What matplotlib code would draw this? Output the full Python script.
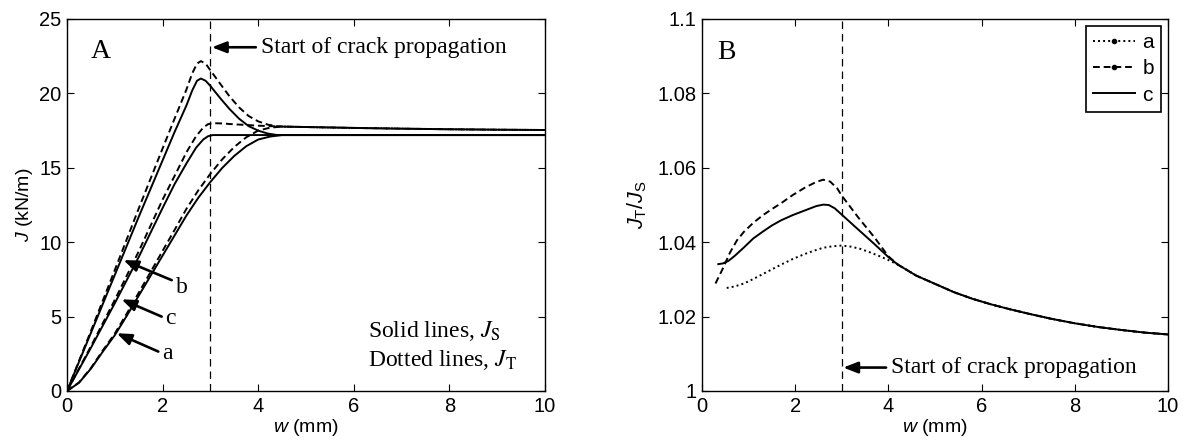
import matplotlib
matplotlib.use("Agg")
import matplotlib.pyplot as plt
from matplotlib.lines import Line2D
import numpy as np

plt.rcParams['font.family'] = ['Liberation Sans', 'DejaVu Sans']
plt.rcParams['mathtext.fontset'] = 'custom'
plt.rcParams['mathtext.rm'] = 'Liberation Sans'
plt.rcParams['mathtext.it'] = 'Liberation Sans:italic'

# ---------------- Panel A data: J (kN/m) vs w (mm) ----------------
a_S_w = [0, 0.25, 0.5, 0.75, 1.0, 1.25, 1.5, 1.75, 2.0, 2.25, 2.5, 2.75, 3.0, 3.25, 3.5, 3.75, 4.0, 4.25, 4.5, 10]
a_S_J = [0, 0.55, 1.5, 2.65, 3.75, 5.05, 6.4, 7.75, 9.1, 10.45, 11.8, 13.0, 14.05, 15.0, 15.8, 16.45, 16.9, 17.1, 17.2, 17.2]

a_T_w = [0, 0.25, 0.5, 0.75, 1.0, 1.25, 1.5, 1.75, 2.0, 2.25, 2.5, 2.75, 3.0, 3.25, 3.5, 3.75, 4.0, 4.25, 4.5, 5, 6, 7, 8, 9, 10]
a_T_J = [0, 0.57, 1.54, 2.73, 3.86, 5.2, 6.6, 8.0, 9.42, 10.82, 12.25, 13.5, 14.6, 15.58, 16.4, 17.05, 17.5, 17.7, 17.77, 17.74, 17.68, 17.63, 17.59, 17.56, 17.54]

c_S_w = [0, 0.5, 1.0, 1.5, 2.0, 2.25, 2.5, 2.7, 2.85, 2.95, 3.05, 10]
c_S_J = [0, 2.9, 5.9, 9.0, 12.3, 13.9, 15.3, 16.35, 16.9, 17.12, 17.2, 17.2]

c_T_w = [0, 0.5, 1.0, 1.5, 2.0, 2.25, 2.5, 2.7, 2.85, 2.95, 3.05, 3.25, 3.5, 3.75, 4.0, 4.5, 5, 6, 7, 8, 9, 10]
c_T_J = [0, 3.0, 6.12, 9.38, 12.86, 14.45, 16.05, 17.12, 17.7, 17.93, 18.0, 17.98, 17.92, 17.88, 17.83, 17.77, 17.74, 17.68, 17.63, 17.59, 17.56, 17.54]

b_S_w = [0, 0.5, 1.0, 1.5, 2.0, 2.25, 2.5, 2.62, 2.72, 2.8, 2.9, 3.0, 3.2, 3.4, 3.6, 3.8, 4.0, 4.2, 4.4, 10]
b_S_J = [0, 3.9, 7.8, 11.7, 15.5, 17.4, 19.2, 20.2, 20.85, 21.0, 20.85, 20.5, 19.7, 18.95, 18.3, 17.8, 17.5, 17.3, 17.2, 17.2]

b_T_w = [0, 0.5, 1.0, 1.5, 2.0, 2.25, 2.5, 2.62, 2.72, 2.8, 2.9, 3.0, 3.2, 3.4, 3.6, 3.8, 4.0, 4.2, 4.4, 4.5, 5, 6, 7, 8, 9, 10]
b_T_J = [0, 4.03, 8.13, 12.26, 16.3, 18.3, 20.27, 21.35, 22.0, 22.17, 22.0, 21.55, 20.67, 19.8, 19.06, 18.48, 18.12, 17.9, 17.8, 17.77, 17.74, 17.68, 17.63, 17.59, 17.56, 17.54]

# ---------------- Panel B data: J_T/J_S vs w (mm) ----------------
tail_w = [4.2, 4.6, 5.0, 5.4, 5.8, 6.2, 6.6, 7.0, 7.5, 8.0, 8.5, 9.0, 9.5, 10.0]
tail_r = [1.0340, 1.0310, 1.0288, 1.0266, 1.0248, 1.0233, 1.0220, 1.0208, 1.0194, 1.0182, 1.0172, 1.0164, 1.0157, 1.0152]

ra_w = [0.53, 0.7, 0.9, 1.1, 1.3, 1.5, 1.7, 1.95, 2.2, 2.4, 2.6, 2.8, 3.0, 3.2, 3.4, 3.6, 3.8, 4.0] + tail_w
ra_r = [1.0277, 1.0281, 1.0289, 1.0301, 1.0314, 1.0327, 1.0340, 1.0355, 1.0368, 1.0377, 1.0385, 1.0389,
        1.0391, 1.0388, 1.0382, 1.0373, 1.0363, 1.0352] + tail_r

rb_w = [0.29, 0.45, 0.6, 0.75, 0.9, 1.1, 1.3, 1.5, 1.7, 1.95, 2.2, 2.45, 2.6, 2.75, 2.9, 3.0, 3.35, 3.7, 4.0] + tail_w
rb_r = [1.0289, 1.0330, 1.0372, 1.0405, 1.0428, 1.0452, 1.0472, 1.0489, 1.0505, 1.0527, 1.0546, 1.0562,
        1.0568, 1.0563, 1.0545, 1.0525, 1.0467, 1.0413, 1.0362] + tail_r

rc_w = [0.35, 0.45, 0.57, 0.7, 0.9, 1.1, 1.3, 1.5, 1.7, 1.95, 2.2, 2.45, 2.6, 2.72, 2.85, 3.0, 3.3, 3.7, 4.0] + tail_w
rc_r = [1.0341, 1.0343, 1.0350, 1.0363, 1.0386, 1.0410, 1.0428, 1.0445, 1.0459, 1.0473, 1.0485, 1.0497,
        1.0501, 1.0500, 1.0491, 1.0474, 1.0440, 1.0395, 1.0360] + tail_r

series_labels = ['a', 'b', 'c']
w_crack = 3.0

W, H = 1190, 443
fig = plt.figure(figsize=(W / 100, H / 100), dpi=100)
axA = fig.add_axes([67 / W, (H - 391) / H, 478 / W, 372 / H])
axB = fig.add_axes([702 / W, (H - 391) / H, 466 / W, 372 / H])

lw = 1.4
tick_fs = 14.5
serif = ['Liberation Serif', 'DejaVu Serif']
arrow_kw = dict(arrowstyle='-|>,head_length=0.62,head_width=0.24', color='black', lw=1.9,
                mutation_scale=14, shrinkA=0, shrinkB=0)

# Panel A curves
for wS, JS, wT, JT in [(a_S_w, a_S_J, a_T_w, a_T_J), (b_S_w, b_S_J, b_T_w, b_T_J), (c_S_w, c_S_J, c_T_w, c_T_J)]:
    axA.plot(wT, JT, color='black', lw=lw, ls=(0, (3.5, 2.0)))
    axA.plot(wS, JS, color='black', lw=lw, ls='-')
axA.axvline(w_crack, color='black', lw=0.9, ls=(0, (6, 4)))

axA.set_xlim(0, 10)
axA.set_ylim(0, 25)
axA.set_xticks([0, 2, 4, 6, 8, 10])
axA.set_yticks([0, 5, 10, 15, 20, 25])
axA.set_xlabel('$\\it{w}$ (mm)', fontsize=14, labelpad=1)
axA.set_ylabel('$\\it{J}$ (kN/m)', fontsize=14, labelpad=3)

axA.text(0.5, 22.8, 'A', fontsize=20, family=serif, va='center', ha='left')
axA.annotate('', xy=(3.03, 23.1), xytext=(3.95, 23.1), arrowprops=arrow_kw)
axA.text(4.05, 23.1, 'Start of crack propagation', fontsize=17, family=serif, va='center', ha='left')

for lab, tip, tail, txt in [('b', (1.18, 8.8), (2.19, 7.45), (2.27, 6.95)),
                            ('c', (1.14, 6.16), (1.98, 5.0), (2.06, 4.85)),
                            ('a', (1.04, 3.88), (1.91, 2.65), (1.98, 2.5))]:
    axA.annotate('', xy=tip, xytext=tail, arrowprops=arrow_kw)
    axA.text(txt[0], txt[1], lab, fontsize=17, family=serif, va='center', ha='left')

axA.text(6.3, 4.0, 'Solid lines, $\\it{J}_{\\rm S}$', fontsize=17, family=serif,
         math_fontfamily='stix', va='center', ha='left')
axA.text(6.3, 2.1, 'Dotted lines, $\\it{J}_{\\rm T}$', fontsize=17, family=serif,
         math_fontfamily='stix', va='center', ha='left')

# Panel B curves
axB.plot(ra_w, ra_r, color='black', lw=lw, ls=(0, (1.0, 1.6)))
axB.plot(rb_w, rb_r, color='black', lw=lw, ls=(0, (3.5, 2.0)))
axB.plot(rc_w, rc_r, color='black', lw=lw, ls='-')
axB.axvline(w_crack, color='black', lw=0.9, ls=(0, (6, 4)))

axB.set_xlim(0, 10)
axB.set_ylim(1.0, 1.1)
axB.set_xticks([0, 2, 4, 6, 8, 10])
yt = [1.0, 1.02, 1.04, 1.06, 1.08, 1.1]
axB.set_yticks(yt)
axB.set_yticklabels(['1', '1.02', '1.04', '1.06', '1.08', '1.1'])
axB.set_xlabel('$\\it{w}$ (mm)', fontsize=14, labelpad=1)
axB.set_ylabel('$J_{\\rm T}/J_{\\rm S}$', fontsize=15.5, labelpad=6)

axB.text(0.33, 1.0911, 'B', fontsize=20, family=serif, va='center', ha='left')
axB.annotate('', xy=(3.03, 1.0063), xytext=(3.95, 1.0063), arrowprops=arrow_kw)
axB.text(4.05, 1.0063, 'Start of crack propagation', fontsize=17, family=serif, va='center', ha='left')

handles = [Line2D([], [], color='black', lw=lw, ls=(0, (1.0, 1.6)), marker='.', markersize=6),
           Line2D([], [], color='black', lw=lw, ls=(0, (3.5, 2.0)), marker='.', markersize=6),
           Line2D([], [], color='black', lw=lw, ls='-')]
leg = axB.legend(handles, series_labels, loc='upper right', fontsize=15, frameon=True,
                 fancybox=False, framealpha=1, edgecolor='black', handlelength=2.0,
                 borderaxespad=0.33, labelspacing=0.35, handletextpad=0.35, borderpad=0.35)
leg.get_frame().set_linewidth(1.2)

for ax in (axA, axB):
    ax.tick_params(direction='in', top=True, right=True, length=5, width=0.8, labelsize=tick_fs, pad=4)
    for s in ax.spines.values():
        s.set_linewidth(1.0)

fig.savefig('out.png', dpi=100)
